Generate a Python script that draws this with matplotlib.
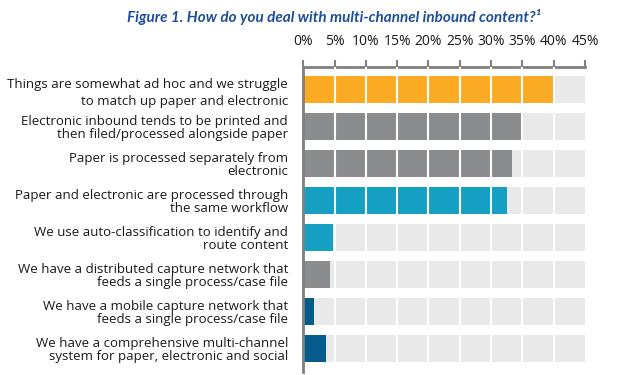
import matplotlib
matplotlib.use("Agg")
import matplotlib.pyplot as plt
import numpy as np

categories = [
    "Things are somewhat ad hoc and we struggle\nto match up paper and electronic",
    "Electronic inbound tends to be printed and\nthen filed/processed alongside paper",
    "Paper is processed separately from\nelectronic",
    "Paper and electronic are processed through\nthe same workflow",
    "We use auto-classification to identify and\nroute content",
    "We have a distributed capture network that\nfeeds a single process/case file",
    "We have a mobile capture network that\nfeeds a single process/case file",
    "We have a comprehensive multi-channel\nsystem for paper, electronic and social",
]
values = [40.0, 35.0, 33.3, 32.5, 4.7, 4.3, 1.7, 3.6]
colors = ["#FBAA23", "#8B8C8E", "#8B8C8E", "#159FC3", "#159FC3", "#8B8C8E", "#065B8D", "#065B8D"]
ticks = [0, 5, 10, 15, 20, 25, 30, 35, 40, 45]
tick_labels = [f"{t}%" for t in ticks]
title = "Figure 1. How do you deal with multi-channel inbound content?¹"

fig = plt.figure(figsize=(6.24, 3.75), dpi=100)
ax = fig.add_axes([0.486, 0.008, 0.9375 - 0.486, 0.822 - 0.008])

y = np.arange(len(categories))
ax.barh(y, [45] * len(y), height=0.73, color="#E9E9E9", zorder=1)
ax.barh(y, values, height=0.73, color=colors, zorder=2)
for t in ticks[1:-1]:
    ax.axvline(t, color="white", lw=1.5, zorder=3)

ax.set_xlim(0, 45)
ax.set_ylim(7.635, -0.61)
ax.xaxis.tick_top()
ax.set_xticks(ticks)
ax.set_xticklabels(tick_labels, fontsize=10, family="Open Sans", color="#1a1a1a")
ax.tick_params(axis="x", direction="out", length=5, width=1.5, color="#808080", pad=8)
ax.set_yticks(y)
ax.set_yticklabels(categories, fontsize=9.5, family="Open Sans", color="#1a1a1a", linespacing=1.05)
ax.tick_params(axis="y", length=0, pad=11)
for i, lab in enumerate(ax.get_yticklabels()):
    lab.set_horizontalalignment("right")
    lab.set_multialignment("right")
    if i == 0:
        lab.set_linespacing(1.4)

for s in ["right", "bottom"]:
    ax.spines[s].set_visible(False)
for s in ["left", "top"]:
    ax.spines[s].set_color("#808080")
    ax.spines[s].set_linewidth(2)
ax.spines["left"].set_zorder(5)

fig.text(0.535, 0.955, title, ha="center", va="center", fontsize=11, family="Lato",
         fontweight="bold", fontstyle="italic", color="#1F4E99")

fig.savefig("out.png", dpi=100)
